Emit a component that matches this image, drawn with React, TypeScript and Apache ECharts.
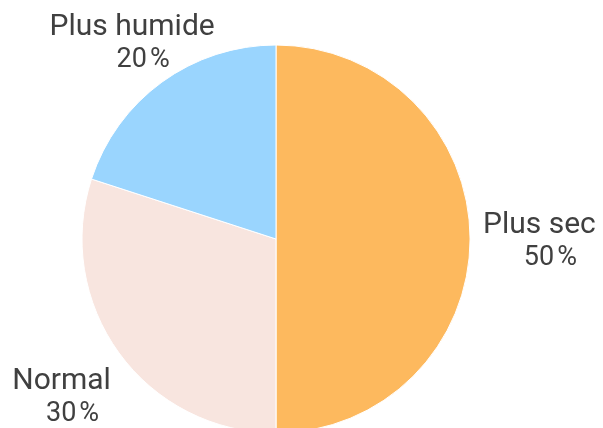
import React, { useEffect, useRef } from "react";
import * as echarts from "echarts";

const categories = ["Plus sec", "Normal", "Plus humide"];
const values = [50, 30, 20];
const colors = ["#FDB95E", "#F8E5DF", "#9AD5FE"];

const CX = 276;
const CY = 239;
const R = 194;
const GAP = 13;
const TOP_MARGIN = 10;

export default function App() {
  const ref = useRef<HTMLDivElement>(null);
  useEffect(() => {
    if (!ref.current) return;
    const chart = echarts.init(ref.current, undefined, { renderer: "svg" });
    const total = values.reduce((a, b) => a + b, 0);
    const mids: number[] = [];
    let acc = 0;
    values.forEach((v) => {
      const a0 = (acc / total) * 360;
      acc += v;
      const a1 = (acc / total) * 360;
      mids.push((((a0 + a1) / 2) * Math.PI) / 180);
    });
    chart.setOption({
      animation: false,
      series: [
        {
          type: "pie",
          center: [CX, CY],
          radius: R,
          startAngle: 90,
          clockwise: true,
          avoidLabelOverlap: false,
          itemStyle: { borderColor: "#ffffff", borderWidth: 1 },
          label: {
            show: true,
            position: "outside",
            fontFamily: "Roboto",
            color: "#404040",
            formatter: (p: any) => `{n|${p.name}}\n{v|${Math.round(p.percent)}}{p|%}`,
            rich: {
              n: { fontFamily: "Roboto", fontSize: 30, color: "#404040", lineHeight: 34, align: "center" },
              v: { fontFamily: "Roboto", fontSize: 27, color: "#404040", lineHeight: 33, padding: [0, 0, 0, 22] },
              p: { fontFamily: "Roboto", fontSize: 27, color: "#404040", lineHeight: 33, padding: [0, 0, 0, 3] },
            },
          },
          labelLine: { show: false },
          labelLayout: (params: any) => {
            const th = mids[params.dataIndex];
            const dx = Math.sin(th);
            const dy = -Math.cos(th);
            const w = params.labelRect.width;
            const h = params.labelRect.height;
            let t = R + GAP + (Math.abs(dx) * w) / 2 + (Math.abs(dy) * h) / 2;
            let y = CY + dy * t;
            if (y - h / 2 < TOP_MARGIN && dy < 0) {
              t = (CY - TOP_MARGIN - h / 2) / -dy;
              y = CY + dy * t;
            }
            const x = CX + dx * t;
            return { x, y, align: "center", verticalAlign: "middle" };
          },
          data: categories.map((c, i) => ({ name: c, value: values[i], itemStyle: { color: colors[i] } })),
        },
      ],
    });
    return () => chart.dispose();
  }, []);
  return <div ref={ref} style={{ position: "fixed", left: 0, top: 0, width: 603, height: 428 }} />;
}
